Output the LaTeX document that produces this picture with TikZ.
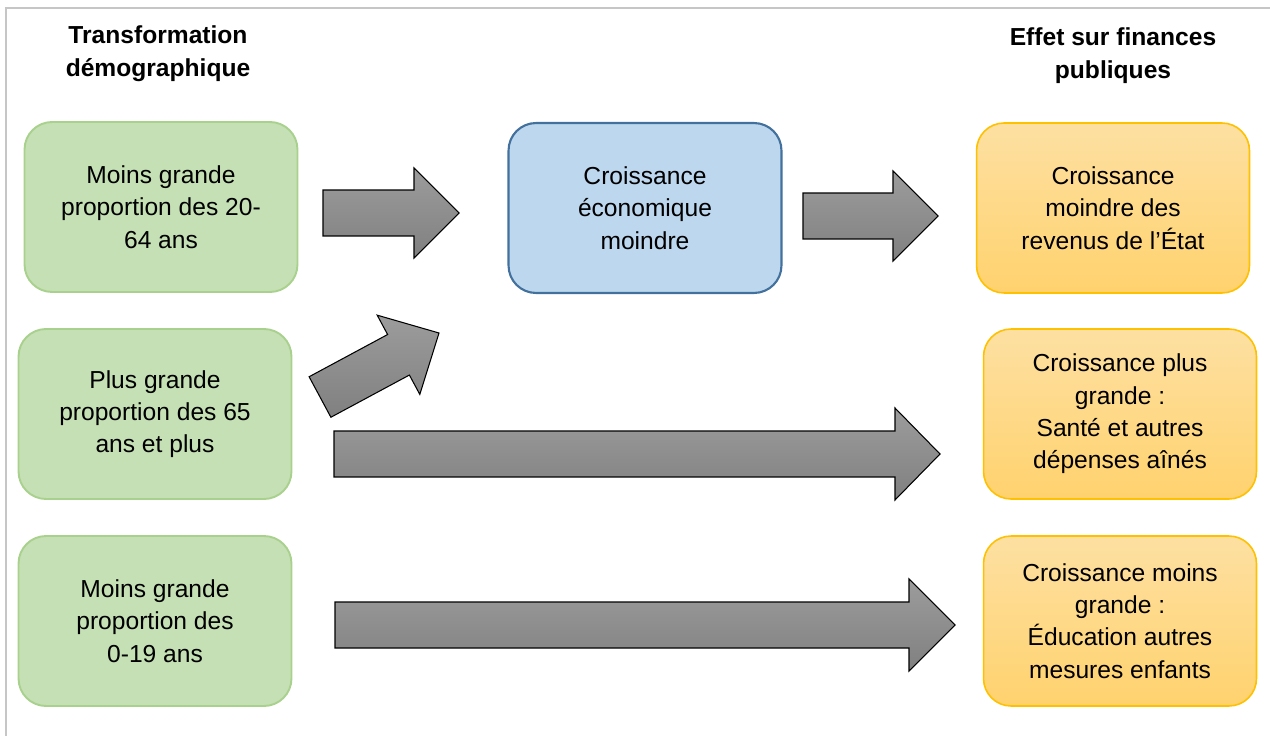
\documentclass[tikz,border=0pt]{standalone}
\usepackage{fontspec}
\setmainfont{Liberation Sans}
\usetikzlibrary{calc}
\definecolor{vt}{HTML}{C5E0B4}
\definecolor{vtb}{HTML}{A9D18E}
\definecolor{bl}{HTML}{BDD7EE}
\definecolor{blb}{HTML}{41719C}
\definecolor{orh}{HTML}{FDE0A2}
\definecolor{orb}{HTML}{FFD26E}
\definecolor{orl}{HTML}{FFC000}
\definecolor{fgh}{HTML}{9C9C9C}
\definecolor{fgb}{HTML}{808080}
\definecolor{cadre}{HTML}{C6C6C6}
\tikzset{
  box/.style={rounded corners=0.55cm, align=center, minimum width=5.46cm, minimum height=3.4cm, inner sep=0pt, font=\fontsize{14}{18.4}\selectfont},
  demo/.style={box, draw=vtb, fill=vt, line width=1.1pt},
  eco/.style={box, draw=blb, fill=bl, line width=1.2pt},
  effet/.style={box, draw=orl, top color=orh, bottom color=orb, line width=0.9pt},
  titre/.style={align=center, font=\bfseries\fontsize{14}{18.7}\selectfont},
  fleche/.style={draw=black, line width=0.6pt, top color=fgh, bottom color=fgb},
}
% grosse fleche pleine : queue, pointe, demi-largeur du corps, demi-largeur de la tete, longueur de la tete
\newcommand{\bloc}[5]{%
  \coordinate (hb) at ($(#2)!#5!(#1)$);
  \path[fleche] ($(#1)!#3!90:(#2)$) -- ($(hb)!#3!90:(#2)$) -- ($(hb)!#4!90:(#2)$) -- (#2)
    -- ($(hb)!#4!-90:(#2)$) -- ($(hb)!#3!-90:(#2)$) -- ($(#1)!#3!-90:(#2)$) -- cycle;}

\begin{document}
\begin{tikzpicture}[x=0.02cm, y=-0.02cm]
  \useasboundingbox (0,0) rectangle (1270,736);
  \draw[cadre, line width=1.2pt] (6,736) -- (6,8) -- (1270,8);

  % en-tetes
  \node[titre] (tdemo) at (158,54) {Transformation\\démographique};
  \node[titre] (tfin) at (1113,56) {Effet sur finances\\publiques};

  % transformation demographique
  \node[demo] (adultes) at (161,207) {Moins grande\\proportion des 20-\\64 ans};
  \node[demo] (aines) at (155,414) {Plus grande\\proportion des 65\\ans et plus};
  \node[demo] (enfants) at (155,621) {Moins grande\\proportion des\\0-19 ans};

  \node[eco] (croiss) at (645,208) {Croissance\\économique\\moindre};

  % effets
  \node[effet] (revenus) at (1113,208) {Croissance\\moindre des\\revenus de l’État};
  \node[effet] (sante) at (1120,414) {Croissance plus\\grande :\\Santé et autres\\dépenses aînés};
  \node[effet] (educ) at (1120,621) {Croissance moins\\grande :\\Éducation autres\\mesures enfants};

  % fleches
  \coordinate (q1) at (323,213);  \coordinate (p1) at (459,213);
  \coordinate (q2) at (320,397);  \coordinate (p2) at (439,333);
  \coordinate (q3) at (334,454);  \coordinate (p3) at (940,454);
  \coordinate (q4) at (335,625);  \coordinate (p4) at (955,625);
  \coordinate (q5) at (803,216);  \coordinate (p5) at (938,216);
  \bloc{q1}{p1}{0.46cm}{0.9cm}{0.9cm}
  \bloc{q2}{p2}{0.46cm}{0.9cm}{0.92cm}
  \bloc{q3}{p3}{0.46cm}{0.92cm}{0.9cm}
  \bloc{q4}{p4}{0.46cm}{0.92cm}{0.92cm}
  \bloc{q5}{p5}{0.46cm}{0.9cm}{0.9cm}
\end{tikzpicture}
\end{document}
